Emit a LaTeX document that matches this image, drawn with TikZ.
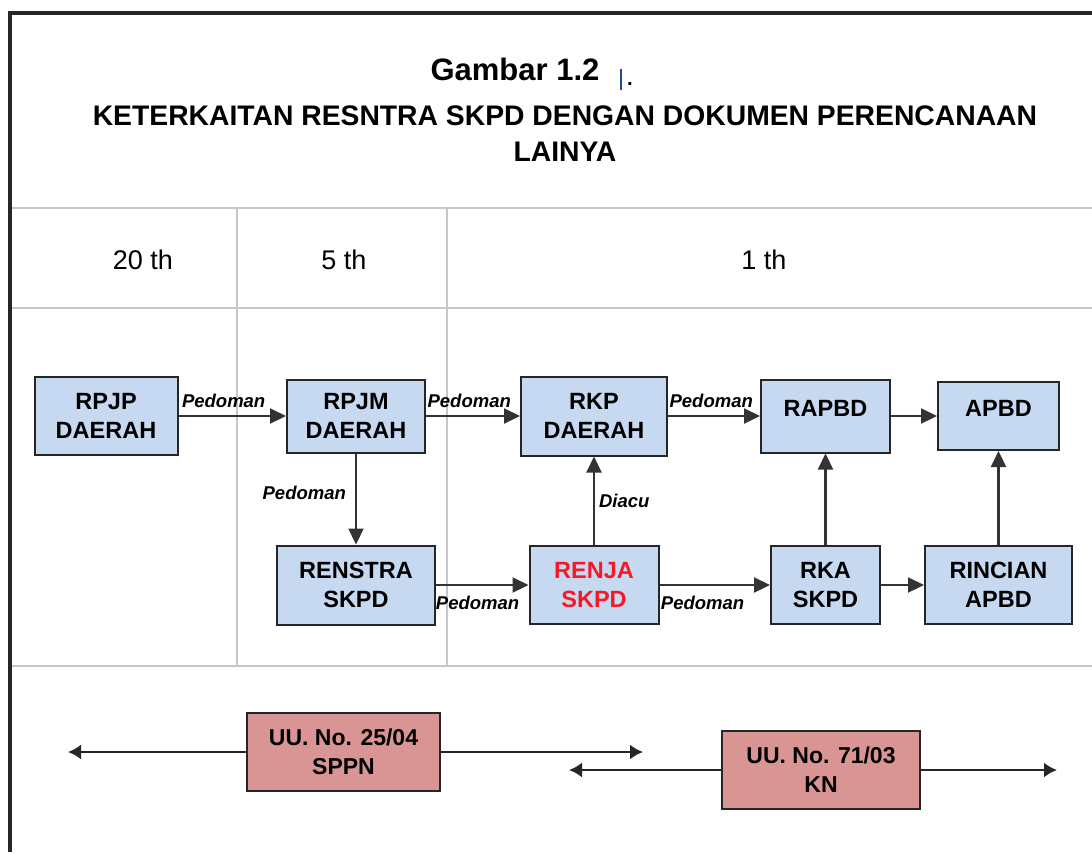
\documentclass[tikz,border=0pt]{standalone}
\usepackage{fontspec}
\setmainfont{Liberation Sans}
\usetikzlibrary{arrows.meta}

\definecolor{boxblue}{RGB}{198,217,241}
\definecolor{lawred}{RGB}{217,149,148}
\definecolor{renjared}{RGB}{245,25,40}
\definecolor{cursorblue}{RGB}{40,70,170}

\begin{document}
\begin{tikzpicture}[x=1pt, y=-1pt,
    box/.style={draw=black!85, line width=2pt, fill=boxblue, align=center, inner sep=0pt,
                font=\fontsize{23.5}{29}\selectfont\bfseries},
    toptext/.style={text height=10pt, text depth=10pt},
    lawbox/.style={box, fill=lawred, font=\fontsize{23}{29}\selectfont\bfseries},
    lbl/.style={font=\fontsize{18.5}{20}\selectfont\bfseries\itshape, inner sep=4pt},
    arr/.style={-{Triangle[length=16pt,width=15pt]}, line width=2.2pt, draw=black!80},
    lawarr/.style={-{Latex[length=13pt,width=15pt]}, line width=2.2pt, draw=black!85},
    grid/.style={draw=black!22, line width=2pt}]
        \useasboundingbox (0,0) rectangle (1092,852);

        % frame and table
        \draw[grid] (12,208) -- (1092,208);
        \draw[grid] (12,308) -- (1092,308);
        \draw[grid] (12,666) -- (1092,666);
        \draw[grid] (237,208) -- (237,666);
        \draw[grid] (447,208) -- (447,666);
        \draw[line width=4pt, black!85] (10,852) -- (10,13) -- (1092,13);

        % heading
        \node[font=\fontsize{31}{36}\selectfont\bfseries] at (515,69) (gambar) {Gambar 1.2};
        \draw[cursorblue, line width=1.2pt] (621,69) -- (621,90);
        \node[font=\fontsize{20}{24}\selectfont\bfseries, inner sep=0pt] at (630,84) (titik) {.};
        \node[align=center, font=\fontsize{28.3}{36}\selectfont\bfseries] at (565,134) (judul)
            {KETERKAITAN RESNTRA SKPD DENGAN DOKUMEN PERENCANAAN\\LAINYA};

        \node[font=\fontsize{27}{30}\selectfont] at (143,260) (th_20) {20 th};
        \node[font=\fontsize{27}{30}\selectfont] at (344,260) (th_5)  {5 th};
        \node[font=\fontsize{27}{30}\selectfont] at (764,260) (th_1)  {1 th};

        % documents
        \node[box, minimum width=143pt, minimum height=78pt] at (106,416)   (rpjp)    {RPJP\\DAERAH};
        \node[box, minimum width=138pt, minimum height=73pt] at (356,416)   (rpjm)    {RPJM\\DAERAH};
        \node[box, minimum width=146pt, minimum height=79pt] at (594,416)   (rkp)     {RKP\\DAERAH};
        \node[box, toptext, minimum width=129pt, minimum height=73pt] at (825.5,416) (rapbd) {RAPBD};
        \node[box, toptext, minimum width=121pt, minimum height=68pt] at (998.5,416) (apbd)  {APBD};

        \node[box, minimum width=158pt, minimum height=79pt] at (356,585)   (renstra) {RENSTRA\\SKPD};
        \node[box, text=renjared, minimum width=129pt, minimum height=78pt] at (594,585) (renja) {RENJA\\SKPD};
        \node[box, minimum width=109pt, minimum height=78pt] at (825.5,585) (rka)     {RKA\\SKPD};
        \node[box, minimum width=147pt, minimum height=78pt] at (998.5,585) (rincian) {RINCIAN\\APBD};

        \draw[arr] (rpjp) -- node[lbl, above=3pt, pos=0.42] {Pedoman} (rpjm);
        \draw[arr] (rpjm) -- node[lbl, above=3pt, pos=0.46] {Pedoman} (rkp);
        \draw[arr] (rkp) -- node[lbl, above=3pt, pos=0.47] {Pedoman} (rapbd);
        \draw[arr] (rapbd) -- (apbd);
        \draw[arr] (rpjm) -- node[lbl, left=5pt, pos=0.43] {Pedoman} (renstra);
        \draw[arr] (renstra) -- node[lbl, below=6pt, pos=0.45] {Pedoman} (renja);
        \draw[arr] (renja) -- node[lbl, below=6pt, pos=0.39] {Pedoman} (rka);
        \draw[arr] (rka) -- (rincian);
        \draw[arr] (renja) -- node[lbl, right=0pt] {Diacu} (rkp);
        \draw[arr] (rka) -- (rapbd);
        \draw[arr] (rincian) -- (apbd);

        % laws
        \node[lawbox, minimum width=193pt, minimum height=78pt] at (343.5,752) (sppn) {UU. No. 25/04\\SPPN};
        \node[lawbox, minimum width=198pt, minimum height=78pt] at (821,770)   (kn)   {UU. No. 71/03\\KN};
        \coordinate (sppn_l) at (68,752);
        \coordinate (sppn_r) at (643,752);
        \coordinate (kn_l) at (569,770);
        \coordinate (kn_r) at (1057,770);
        \draw[lawarr] (sppn) -- (sppn_l);
        \draw[lawarr] (sppn) -- (sppn_r);
        \draw[lawarr] (kn) -- (kn_l);
        \draw[lawarr] (kn) -- (kn_r);
\end{tikzpicture}
\end{document}
